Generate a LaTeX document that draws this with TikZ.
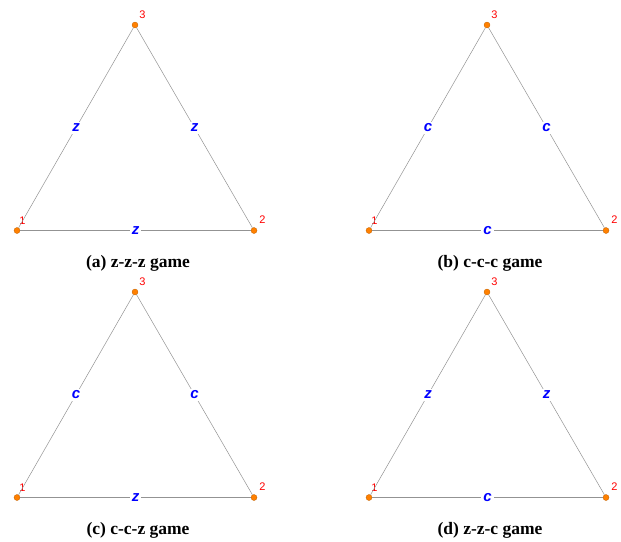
\documentclass[tikz,border=0pt]{standalone}
\usepackage{fontspec}
\setmainfont{Liberation Serif}
\setsansfont{Liberation Sans}
\usetikzlibrary{positioning}

\begin{document}
\begin{tikzpicture}[
    x=1pt, y=-1pt,
    vert/.style={circle, draw=orange!75!black, fill=orange, inner sep=0pt, minimum size=6pt, line width=0.3pt},
    num/.style={font=\sffamily\fontsize{11}{11}\selectfont, text=red, inner sep=0pt},
    edge/.style={draw=gray!85, line width=0.5pt},
    elab/.style={font=\sffamily\bfseries\itshape\fontsize{15}{15}\selectfont, text=blue, fill=white, inner sep=2pt},
    captext/.style={font=\bfseries\fontsize{17.5}{18}\selectfont}
  ]
  \path[use as bounding box] (0,0) rectangle (621,541);

  % one triangle per panel
  \foreach \p/\dx/\dy/\ea/\eb/\ec/\ct in {
      a/0/0/z/z/z/{(a) z-z-z game},
      b/352/0/c/c/c/{(b) c-c-c game},
      c/0/267/c/c/z/{(c) c-c-z game},
      d/352/267/z/z/c/{(d) z-z-c game}} {
    \node[vert] (\p1) at ({\dx+17},{\dy+230.5}) {};
    \node[vert] (\p2) at ({\dx+254},{\dy+230.5}) {};
    \node[vert] (\p3) at ({\dx+135},{\dy+25}) {};

    \node[num, above right=4pt and 0pt of \p1] (\p n1) {1};
    \node[num, above right=5pt and 3pt of \p2] (\p n2) {2};
    \node[num, above right=4pt and 2pt of \p3] (\p n3) {3};

    \draw[edge] (\p1) -- node[elab] (\p e13) {\ea} (\p3);
    \draw[edge] (\p3) -- node[elab] (\p e32) {\eb} (\p2);
    \draw[edge] (\p1) -- node[elab] (\p e12) {\ec} (\p2);

    \node[captext] (\p cap) at ({\dx+138},{\dy+263}) {\ct};
  }
\end{tikzpicture}
\end{document}
